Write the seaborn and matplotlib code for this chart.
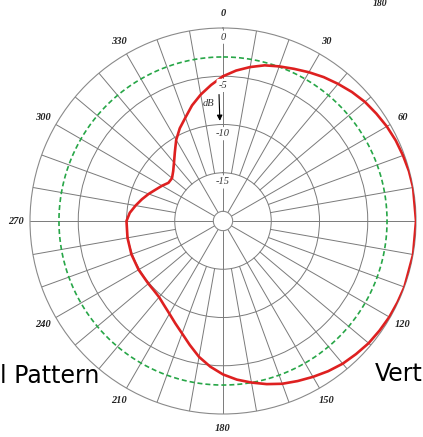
import numpy as np
import pandas as pd
import matplotlib.pyplot as plt
import seaborn as sns

# radiation pattern: degrees clockwise from top, level in dB
angles = [0, 5, 10, 15, 20, 25, 30, 35, 40, 45, 50, 55, 60, 65, 70, 75, 80, 90, 100, 110,
          115, 120, 125, 130, 135, 140, 145, 150, 155, 160, 165, 170, 175,
          180, 185, 190, 195, 200, 205, 210, 215, 220, 225, 230, 240, 250, 260,
          270, 275, 280, 285, 290, 295, 300, 305, 310, 315,
          320, 325, 330, 335, 340, 345, 350, 355, 360]
gain_db = [-5.0, -4.35, -3.8, -3.3, -2.95, -2.6, -2.2, -1.8, -1.45, -1.1, -0.8, -0.6,
           -0.4, -0.25, -0.15, -0.05, 0.0, 0.0, 0.0, 0.0,
           -0.05, -0.1, -0.2, -0.3, -0.5, -0.7, -1.0, -1.35, -1.7, -2.05, -2.5, -3.0, -3.5,
           -4.1, -4.85, -5.7, -6.7, -7.6, -8.3, -8.9, -9.35, -9.7, -9.85, -9.9, -9.9, -9.9, -9.95,
           -10.0, -10.3, -10.8, -11.3, -11.8, -12.3, -12.7, -13.1, -13.1, -12.7,
           -12.1, -11.3, -10.3, -9.4, -8.6, -7.6, -6.7, -5.85, -5.0]

ref_db = -3
ring_db = [0, -5, -10, -15]
ring_labels = ['0', '-5', '-10', '-15']
spoke_ticks = [0, 30, 60, 90, 120, 150, 180, 210, 240, 270, 300, 330]
# the 90 label falls outside the cropped picture, so it is not shown
deg_ticks = [0, 30, 60, 120, 150, 180, 210, 240, 270, 300, 330]
deg_labels = ['0', '30', '60', '120', '150', '180', '210', '240', '270', '300', '330']

sns.set_style("white")

W, H = 423, 437
fig = plt.figure(figsize=(W / 100, H / 100), dpi=100)
ax = fig.add_axes([30 / W, 23 / H, 386 / W, 386 / H], projection='polar')
ax.set_theta_zero_location('N')
ax.set_theta_direction(-1)
ax.set_ylim(-19, 0)
ax.set_rorigin(-20)

grid_col = '#7a7a7a'
ax.set_xticks(np.deg2rad(spoke_ticks))
ax.set_xticklabels([])
ax.set_yticks(ring_db[1:])
ax.set_yticklabels([])
ax.grid(True, color=grid_col, lw=0.7)
for name in ['polar', 'inner']:
    ax.spines[name].set_color('#8a8a8a')
    ax.spines[name].set_linewidth(0.8)

# finer 10 degree spokes only outside the -15 dB ring
for a in range(0, 360, 10):
    if a % 30:
        ax.plot([np.deg2rad(a)] * 2, [-15, 0], color=grid_col, lw=0.7, zorder=1)

# -3 dB reference circle
circ = np.linspace(0, 2 * np.pi, 361)
ax.plot(circ, np.full_like(circ, ref_db), color='#27a647', lw=1.2,
        linestyle=(0, (3, 1.8)), zorder=2)

df = pd.DataFrame({'theta': np.deg2rad(angles), 'gain': gain_db})
sns.lineplot(data=df, x='theta', y='gain', ax=ax, sort=False,
             color='#de2020', lw=1.9, zorder=3)
ax.set_xlabel('')
ax.set_ylabel('')

serif = ['Liberation Serif', 'DejaVu Serif']
for d, lab in zip(deg_ticks, deg_labels):
    ax.text(np.deg2rad(d), 1.5, lab, ha='center', va='center', family=serif,
            style='italic', weight='bold', fontsize=7.5, color='#222222')

for r, lab in zip(ring_db, ring_labels):
    ax.text(0, r - 0.95, lab, ha='center', va='center', family=serif,
            style='italic', fontsize=7.5, color='#333333', zorder=4,
            bbox=dict(boxstyle='round,pad=0.2', fc='white', ec='none'))

ax.text(np.deg2rad(-6.8), -7.7, 'dB', ha='center', va='center', family=serif,
        style='italic', fontsize=7.5, color='#333333')
ax.annotate('', xy=(np.deg2rad(-1.8), -9.9), xytext=(np.deg2rad(-1.8), -6.6),
            arrowprops=dict(arrowstyle='-|>', lw=0.8, color='black', mutation_scale=8))

fig.text(380 / W, 1 - 4 / H, '180', ha='center', va='center', family=serif,
         style='italic', weight='bold', fontsize=7, color='#222222')
fig.text(0.0, 1 - 376 / H, 'l Pattern', ha='left', va='center',
         fontsize=17, color='black')
fig.text(1.0, 1 - 374 / H, 'Vert', ha='right', va='center',
         fontsize=17, color='black')

fig.savefig('out.png', dpi=100)
